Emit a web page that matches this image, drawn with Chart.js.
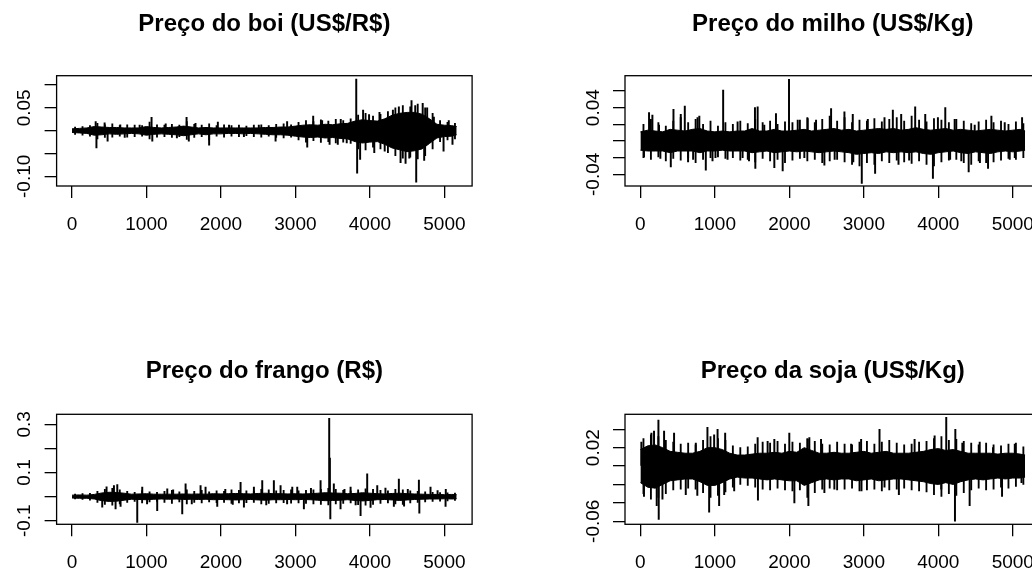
<!DOCTYPE html>
<html>
<head>
<meta charset="utf-8">
<script src="https://cdn.jsdelivr.net/npm/chart.js@4.4.0/dist/chart.umd.min.js"></script>
<style>
  html, body { margin: 0; padding: 0; background: #fff; }
  body { position: relative; width: 1032px; height: 572px; overflow: hidden; }
  canvas { position: absolute; }
</style>
</head>
<body>
<canvas id="boi" width="520" height="250" style="left:0px;top:0px"></canvas>
<canvas id="milho" width="520" height="250" style="left:568px;top:0px"></canvas>
<canvas id="frango" width="520" height="250" style="left:0px;top:338px"></canvas>
<canvas id="soja" width="520" height="250" style="left:568px;top:338px"></canvas>
<script>
// ---- data: daily returns ----
// core  = solid black band per 100-obs block (at obs 0,100,...)
// hair  = outer reach of the thin lines per 100-obs block (at obs 50,150,...)
// spike = isolated large moves
const LAST_OBS = 5165;
const xTicks = [0, 1000, 2000, 3000, 4000, 5000];

const boiHi = [0.004, 0.005, 0.006, 0.009, 0.008, 0.007, 0.007, 0.006, 0.006, 0.006,
  0.009, 0.007, 0.006, 0.007, 0.008, 0.010, 0.008, 0.006, 0.007, 0.006,
  0.006, 0.006, 0.006, 0.006, 0.006, 0.006, 0.007, 0.007, 0.008, 0.008,
  0.010, 0.012, 0.013, 0.012, 0.014, 0.013, 0.015, 0.016, 0.021, 0.024,
  0.022, 0.021, 0.026, 0.034, 0.038, 0.040, 0.040, 0.036, 0.026, 0.014,
  0.012, 0.011, 0.009];
const boiLo = [-0.004, -0.005, -0.006, -0.010, -0.009, -0.007, -0.008, -0.007, -0.006, -0.007,
  -0.010, -0.008, -0.007, -0.008, -0.009, -0.011, -0.009, -0.007, -0.009, -0.007,
  -0.007, -0.006, -0.006, -0.007, -0.006, -0.007, -0.008, -0.009, -0.009, -0.010,
  -0.012, -0.014, -0.015, -0.014, -0.016, -0.015, -0.017, -0.018, -0.024, -0.027,
  -0.025, -0.024, -0.030, -0.038, -0.042, -0.046, -0.044, -0.040, -0.028, -0.016,
  -0.013, -0.012, -0.009];
const boiHairHi = [0.008, 0.009, 0.011, 0.016, 0.013, 0.015, 0.011, 0.013, 0.012, 0.011,
  0.019, 0.013, 0.012, 0.014, 0.012, 0.020, 0.014, 0.012, 0.015, 0.011,
  0.013, 0.011, 0.012, 0.010, 0.012, 0.013, 0.011, 0.014, 0.015, 0.013,
  0.018, 0.022, 0.020, 0.024, 0.021, 0.025, 0.022, 0.026, 0.034, 0.038,
  0.032, 0.036, 0.042, 0.050, 0.055, 0.052, 0.058, 0.050, 0.038, 0.022,
  0.018, 0.016];
const boiHairLo = [-0.008, -0.010, -0.012, -0.018, -0.015, -0.014, -0.012, -0.014, -0.013, -0.012,
  -0.018, -0.014, -0.013, -0.015, -0.013, -0.019, -0.015, -0.013, -0.020, -0.012,
  -0.014, -0.012, -0.013, -0.011, -0.013, -0.014, -0.012, -0.015, -0.016, -0.014,
  -0.020, -0.025, -0.022, -0.026, -0.024, -0.027, -0.025, -0.028, -0.040, -0.042,
  -0.036, -0.040, -0.048, -0.055, -0.060, -0.058, -0.062, -0.055, -0.040, -0.024,
  -0.020, -0.018];
const boiSpikeX = [310, 320, 430, 470, 640, 700, 900, 1060, 1070, 1250, 1400, 1530, 1560, 1650, 1833,
  1950, 2100, 2300, 2500, 2725, 2880, 3150, 3230, 3350, 3450, 3560, 3600, 3680, 3808, 3820,
  3860, 3900, 3980, 4050, 4120, 4190, 4300, 4380, 4403, 4470, 4520, 4550, 4600, 4613, 4700,
  4720, 4760, 4850, 4980, 5050, 5100];
const boiSpikeY = [0.020, -0.038, 0.017, -0.023, 0.013, -0.015, 0.012, 0.029, -0.023, 0.015, -0.016, 0.029, -0.023, 0.016, -0.032,
  0.019, 0.012, -0.013, 0.012, -0.023, 0.020, -0.036, 0.032, 0.022, -0.030, -0.030, 0.025, -0.027, 0.113, -0.093,
  -0.063, 0.045, 0.035, -0.048, 0.040, -0.045, 0.045, 0.052, -0.070, -0.072, -0.060, 0.066, 0.055, -0.113, 0.060,
  -0.065, 0.050, 0.030, -0.045, 0.022, -0.030];

const milhoHi = [0.011, 0.013, 0.012, 0.011, 0.014, 0.013, 0.012, 0.014, 0.015, 0.012,
  0.011, 0.012, 0.011, 0.012, 0.012, 0.015, 0.012, 0.012, 0.014, 0.012,
  0.012, 0.013, 0.014, 0.012, 0.013, 0.014, 0.015, 0.013, 0.014, 0.012,
  0.013, 0.014, 0.015, 0.014, 0.015, 0.013, 0.014, 0.016, 0.014, 0.013,
  0.014, 0.015, 0.013, 0.014, 0.013, 0.012, 0.013, 0.014, 0.013, 0.012,
  0.013, 0.014, 0.012];
const milhoLo = [-0.011, -0.012, -0.012, -0.012, -0.014, -0.012, -0.012, -0.012, -0.014, -0.012,
  -0.012, -0.011, -0.012, -0.012, -0.012, -0.014, -0.013, -0.012, -0.014, -0.013,
  -0.012, -0.013, -0.012, -0.013, -0.014, -0.013, -0.012, -0.013, -0.014, -0.016,
  -0.015, -0.014, -0.015, -0.013, -0.014, -0.013, -0.014, -0.013, -0.015, -0.016,
  -0.014, -0.013, -0.012, -0.014, -0.015, -0.013, -0.014, -0.015, -0.013, -0.012,
  -0.013, -0.012, -0.011];
const milhoHairHi = [0.020, 0.026, 0.022, 0.018, 0.024, 0.028, 0.022, 0.026, 0.020, 0.024,
  0.018, 0.022, 0.020, 0.024, 0.021, 0.026, 0.022, 0.024, 0.020, 0.023,
  0.022, 0.025, 0.028, 0.022, 0.026, 0.030, 0.024, 0.028, 0.022, 0.025,
  0.024, 0.027, 0.023, 0.026, 0.028, 0.024, 0.030, 0.025, 0.023, 0.027,
  0.025, 0.022, 0.026, 0.024, 0.021, 0.023, 0.025, 0.022, 0.024, 0.020,
  0.023, 0.021];
const milhoHairLo = [-0.020, -0.022, -0.019, -0.024, -0.021, -0.023, -0.020, -0.026, -0.022, -0.020,
  -0.019, -0.021, -0.020, -0.023, -0.022, -0.025, -0.021, -0.024, -0.022, -0.026,
  -0.023, -0.021, -0.024, -0.022, -0.026, -0.024, -0.022, -0.025, -0.028, -0.030,
  -0.026, -0.028, -0.024, -0.026, -0.023, -0.025, -0.027, -0.024, -0.028, -0.030,
  -0.025, -0.023, -0.022, -0.026, -0.028, -0.024, -0.026, -0.025, -0.023, -0.021,
  -0.022, -0.020];
const milhoSpikeX = [40, 108, 153, 242, 260, 400, 436, 534, 588, 632, 700, 759, 783, 870, 960,
  1000, 1103, 1162, 1297, 1364, 1450, 1530, 1535, 1566, 1655, 1790, 1812, 1902, 1987, 2104,
  2193, 2238, 2350, 2462, 2552, 2600, 2731, 2843, 2850, 2964, 3045, 3143, 3269, 3381, 3457,
  3493, 3600, 3681, 3816, 3919, 3986, 4085, 4150, 4211, 4300, 4399, 4480, 4550, 4659, 4704,
  4883, 4950, 5018, 5116];
const milhoSpikeY = [-0.019, 0.034, 0.031, 0.019, -0.021, -0.031, 0.038, 0.032, 0.042, -0.025, -0.022, 0.028, 0.030, -0.035, -0.024,
  -0.020, 0.061, -0.022, 0.023, -0.020, -0.024, 0.040, -0.033, 0.041, 0.019, -0.032, 0.033, -0.036, 0.074, 0.025,
  -0.020, 0.027, 0.025, -0.029, 0.039, -0.022, 0.035, 0.032, -0.025, -0.051, 0.026, -0.039, 0.028, 0.037, -0.028,
  0.032, -0.023, 0.041, 0.032, -0.045, 0.028, 0.040, -0.022, 0.026, -0.024, -0.037, 0.019, -0.026, -0.033, 0.030,
  0.022, -0.022, -0.020, 0.028];

const frangoHi = [0.006, 0.007, 0.006, 0.009, 0.015, 0.018, 0.017, 0.014, 0.010, 0.011,
  0.012, 0.010, 0.010, 0.010, 0.010, 0.011, 0.010, 0.011, 0.010, 0.012,
  0.011, 0.012, 0.013, 0.012, 0.011, 0.013, 0.014, 0.012, 0.012, 0.011,
  0.012, 0.011, 0.012, 0.014, 0.016, 0.015, 0.014, 0.012, 0.013, 0.016,
  0.014, 0.012, 0.011, 0.013, 0.014, 0.012, 0.011, 0.010, 0.009, 0.009,
  0.008, 0.009, 0.008];
const frangoLo = [-0.006, -0.007, -0.007, -0.010, -0.017, -0.020, -0.019, -0.015, -0.011, -0.012,
  -0.013, -0.011, -0.010, -0.011, -0.010, -0.012, -0.011, -0.012, -0.011, -0.013,
  -0.012, -0.013, -0.014, -0.013, -0.012, -0.014, -0.015, -0.013, -0.013, -0.012,
  -0.013, -0.012, -0.013, -0.015, -0.017, -0.016, -0.015, -0.013, -0.016, -0.018,
  -0.016, -0.013, -0.012, -0.014, -0.016, -0.014, -0.012, -0.011, -0.010, -0.010,
  -0.009, -0.010, -0.009];
const frangoHairHi = [0.010, 0.012, 0.014, 0.022, 0.030, 0.034, 0.028, 0.022, 0.018, 0.025,
  0.020, 0.018, 0.022, 0.026, 0.020, 0.028, 0.022, 0.026, 0.020, 0.024,
  0.022, 0.028, 0.026, 0.024, 0.022, 0.030, 0.028, 0.024, 0.026, 0.028,
  0.024, 0.026, 0.028, 0.030, 0.034, 0.030, 0.026, 0.024, 0.028, 0.032,
  0.030, 0.026, 0.024, 0.030, 0.028, 0.024, 0.022, 0.020, 0.018, 0.017,
  0.016, 0.015];
const frangoHairLo = [-0.010, -0.012, -0.015, -0.024, -0.032, -0.036, -0.030, -0.024, -0.020, -0.026,
  -0.022, -0.020, -0.024, -0.028, -0.022, -0.030, -0.024, -0.026, -0.022, -0.025,
  -0.024, -0.028, -0.026, -0.025, -0.024, -0.030, -0.028, -0.026, -0.025, -0.027,
  -0.026, -0.028, -0.030, -0.032, -0.035, -0.030, -0.028, -0.026, -0.034, -0.036,
  -0.032, -0.028, -0.026, -0.030, -0.032, -0.026, -0.024, -0.022, -0.020, -0.019,
  -0.018, -0.016];
const frangoSpikeX = [398, 456, 555, 577, 600, 644, 868, 935, 1000, 1136, 1271, 1350, 1472, 1517, 1600,
  1718, 1785, 1942, 2050, 2150, 2255, 2300, 2434, 2546, 2600, 2702, 2792, 2880, 2949, 3016,
  3105, 3200, 3329, 3445, 3454, 3460, 3507, 3597, 3650, 3732, 3800, 3866, 3955, 4000, 4090,
  4200, 4313, 4380, 4450, 4500, 4649, 4655, 4805, 4900, 5007, 5010];
const frangoSpikeY = [-0.044, 0.041, 0.046, -0.051, 0.050, -0.041, -0.107, 0.039, -0.030, -0.058, 0.032, 0.028, -0.072, 0.053, -0.030,
  0.046, 0.039, -0.041, 0.030, -0.032, 0.059, -0.044, 0.039, 0.066, -0.035, 0.066, 0.046, -0.030, 0.039, 0.039,
  -0.051, 0.034, 0.066, 0.325, 0.160, -0.093, 0.053, -0.051, 0.030, 0.039, -0.035, -0.079, 0.094, -0.045, 0.046,
  0.035, -0.041, 0.073, -0.040, 0.030, 0.069, -0.069, 0.039, 0.025, -0.041, 0.030];

const sojaHi = [0.018, 0.022, 0.023, 0.020, 0.016, 0.015, 0.014, 0.014, 0.016, 0.020,
  0.020, 0.018, 0.014, 0.012, 0.012, 0.013, 0.014, 0.014, 0.015, 0.014,
  0.016, 0.015, 0.020, 0.017, 0.014, 0.014, 0.015, 0.014, 0.014, 0.015,
  0.016, 0.014, 0.015, 0.016, 0.014, 0.014, 0.014, 0.015, 0.016, 0.018,
  0.019, 0.017, 0.018, 0.016, 0.014, 0.014, 0.014, 0.014, 0.013, 0.014,
  0.014, 0.013, 0.012];
const sojaLo = [-0.018, -0.023, -0.024, -0.020, -0.016, -0.015, -0.014, -0.014, -0.017, -0.021,
  -0.021, -0.018, -0.014, -0.012, -0.013, -0.013, -0.014, -0.015, -0.014, -0.015,
  -0.016, -0.016, -0.021, -0.018, -0.015, -0.014, -0.015, -0.014, -0.014, -0.016,
  -0.015, -0.014, -0.016, -0.015, -0.014, -0.014, -0.015, -0.016, -0.017, -0.019,
  -0.020, -0.018, -0.020, -0.017, -0.015, -0.014, -0.015, -0.014, -0.013, -0.014,
  -0.013, -0.013, -0.012];
const sojaHairHi = [0.030, 0.034, 0.032, 0.028, 0.026, 0.024, 0.025, 0.023, 0.028, 0.032,
  0.030, 0.028, 0.022, 0.020, 0.021, 0.024, 0.026, 0.025, 0.027, 0.024,
  0.026, 0.025, 0.030, 0.027, 0.024, 0.023, 0.026, 0.024, 0.023, 0.026,
  0.027, 0.024, 0.026, 0.028, 0.025, 0.023, 0.024, 0.026, 0.027, 0.030,
  0.032, 0.028, 0.029, 0.027, 0.025, 0.023, 0.025, 0.023, 0.022, 0.024,
  0.025, 0.021];
const sojaHairLo = [-0.030, -0.036, -0.034, -0.030, -0.026, -0.025, -0.024, -0.025, -0.029, -0.034,
  -0.032, -0.028, -0.023, -0.020, -0.021, -0.023, -0.025, -0.026, -0.024, -0.026,
  -0.027, -0.026, -0.034, -0.029, -0.025, -0.024, -0.026, -0.025, -0.024, -0.027,
  -0.026, -0.025, -0.027, -0.026, -0.025, -0.024, -0.026, -0.027, -0.028, -0.031,
  -0.033, -0.030, -0.032, -0.029, -0.026, -0.024, -0.026, -0.025, -0.023, -0.024,
  -0.022, -0.020];
const sojaSpikeX = [5, 40, 140, 175, 211, 234, 238, 288, 310, 444, 601, 736, 756, 892, 915,
  982, 1028, 1049, 1117, 1130, 1251, 1566, 1570, 1700, 1790, 1991, 2059, 2238, 2247, 2260,
  2417, 2462, 2596, 2821, 2955, 2960, 3202, 3269, 3462, 3673, 3942, 4031, 4098, 4215, 4220,
  4314, 4412, 4547, 4726, 4847, 5018, 5108];
const sojaSpikeY = [0.026, -0.033, 0.036, 0.038, -0.043, 0.050, -0.058, -0.036, 0.038, 0.036, -0.031, 0.025, -0.032, 0.042, -0.050,
  0.034, 0.040, -0.043, -0.031, 0.036, -0.027, 0.031, -0.037, 0.027, 0.029, 0.036, -0.040, 0.029, -0.043, 0.031,
  0.029, -0.029, -0.025, 0.024, 0.029, -0.027, 0.040, -0.023, -0.031, 0.029, 0.033, -0.025, 0.053, -0.060, 0.040,
  0.025, -0.043, 0.026, 0.020, -0.033, 0.024, -0.018];

// ---- layout (R base graphics look) ----
const INK = '#000';
const FONT = '"Liberation Sans", Arial, Helvetica, sans-serif';
const CW = 520, CH = 250;
const X_MIN = -206, X_MAX = 5372;
const AREA_W = 415.5;

// box, title, axis labels; positions come from the chart's own scales
const rFrame = {
  id: 'rFrame',
  afterDatasetsDraw(chart, args, opts) {
    const { ctx, chartArea: a, scales } = chart;
    ctx.save();
    ctx.strokeStyle = INK;
    ctx.lineWidth = 1.3;
    ctx.strokeRect(a.left, a.top, a.right - a.left, a.bottom - a.top);
    ctx.fillStyle = INK;
    ctx.textAlign = 'center';
    ctx.textBaseline = 'alphabetic';
    ctx.font = 'bold 24px ' + FONT;
    ctx.fillText(opts.title, (a.left + a.right) / 2, a.top - opts.titleGap);
    ctx.font = '19px ' + FONT;
    xTicks.forEach(v => ctx.fillText(String(v), scales.x.getPixelForValue(v), a.bottom + 43.5));
    opts.yLabels.forEach(t => {
      ctx.save();
      ctx.translate(a.left - 26.5, scales.y.getPixelForValue(Number(t)));
      ctx.rotate(-Math.PI / 2);
      ctx.fillText(t, 0, 0);
      ctx.restore();
    });
    ctx.restore();
  }
};

function axisGrid() {
  return { drawOnChartArea: false, drawTicks: true, tickLength: 12, color: INK, lineWidth: 1.3, offset: false };
}

function makePanel(p) {
  const coreX = p.hi.map((_, i) => Math.min(Math.max(i * 100, 1), LAST_OBS));
  const hairX = p.hairHi.map((_, i) => i * 100 + 50);
  return new Chart(document.getElementById(p.id), {
    type: 'line',
    data: {
      datasets: [
        { type: 'line', data: coreX.map((x, i) => ({ x, y: p.hi[i] })), borderColor: INK, backgroundColor: INK,
          borderWidth: 1, pointRadius: 0, tension: 0, fill: '+1' },
        { type: 'line', data: coreX.map((x, i) => ({ x, y: p.lo[i] })), borderColor: INK,
          borderWidth: 1, pointRadius: 0, tension: 0, fill: false },
        { type: 'bar', data: hairX.map((x, i) => ({ x, y: [p.hairLo[i], p.hairHi[i]] })), backgroundColor: INK,
          borderWidth: 0, barThickness: 1.2 },
        { type: 'bar', data: p.spikeX.map((x, i) => ({ x, y: [0, p.spikeY[i]] })), backgroundColor: INK,
          borderWidth: 0, barThickness: 1.3 }
      ]
    },
    options: {
      responsive: false,
      animation: false,
      events: [],
      layout: { padding: { left: 0, top: p.areaTop, right: CW - p.areaLeft - AREA_W, bottom: 0 } },
      plugins: {
        legend: { display: false },
        tooltip: { enabled: false },
        rFrame: { title: p.title, titleGap: p.titleGap, yLabels: p.yLabels }
      },
      scales: {
        x: {
          type: 'linear', min: X_MIN, max: X_MAX, offset: false,
          afterBuildTicks: s => { s.ticks = xTicks.map(v => ({ value: v })); },
          afterFit: s => { s.height = CH - p.areaTop - p.areaH; },
          ticks: { display: false },
          grid: axisGrid(),
          border: { display: false }
        },
        y: {
          type: 'linear', min: p.yMin, max: p.yMax,
          afterBuildTicks: s => { s.ticks = p.yTicks.map(v => ({ value: v })); },
          afterFit: s => { s.width = p.areaLeft; },
          ticks: { display: false },
          grid: axisGrid(),
          border: { display: false }
        }
      }
    },
    plugins: [rFrame]
  });
}

makePanel({ id: 'boi', title: 'Preço do boi (US$/R$)', hi: boiHi, lo: boiLo, hairHi: boiHairHi, hairLo: boiHairLo,
  spikeX: boiSpikeX, spikeY: boiSpikeY,
  yMin: -0.1212, yMax: 0.1204, yTicks: [-0.10, -0.05, 0, 0.05, 0.10], yLabels: ['0.05', '-0.10'],
  areaLeft: 56.6, areaTop: 75.7, areaH: 110.3, titleGap: 44.7 });
makePanel({ id: 'milho', title: 'Preço do milho (US$/Kg)', hi: milhoHi, lo: milhoLo, hairHi: milhoHairHi, hairLo: milhoHairLo,
  spikeX: milhoSpikeX, spikeY: milhoSpikeY,
  yMin: -0.054, yMax: 0.0784, yTicks: [-0.04, -0.02, 0, 0.02, 0.04, 0.06], yLabels: ['0.04', '-0.04'],
  areaLeft: 57, areaTop: 75.7, areaH: 110.3, titleGap: 44.7 });
makePanel({ id: 'frango', title: 'Preço do frango (R$)', hi: frangoHi, lo: frangoLo, hairHi: frangoHairHi, hairLo: frangoHairLo,
  spikeX: frangoSpikeX, spikeY: frangoSpikeY,
  yMin: -0.115, yMax: 0.3415, yTicks: [-0.1, 0, 0.1, 0.2, 0.3], yLabels: ['0.3', '0.1', '-0.1'],
  areaLeft: 56.6, areaTop: 76.3, areaH: 110, titleGap: 36.3 });
makePanel({ id: 'soja', title: 'Preço da soja (US$/Kg)', hi: sojaHi, lo: sojaLo, hairHi: sojaHairHi, hairLo: sojaHairLo,
  spikeX: sojaSpikeX, spikeY: sojaSpikeY,
  yMin: -0.0633, yMax: 0.0563, yTicks: [-0.06, -0.04, -0.02, 0, 0.02, 0.04], yLabels: ['0.02', '-0.06'],
  areaLeft: 57, areaTop: 76.3, areaH: 110, titleGap: 36.3 });
</script>
</body>
</html>
